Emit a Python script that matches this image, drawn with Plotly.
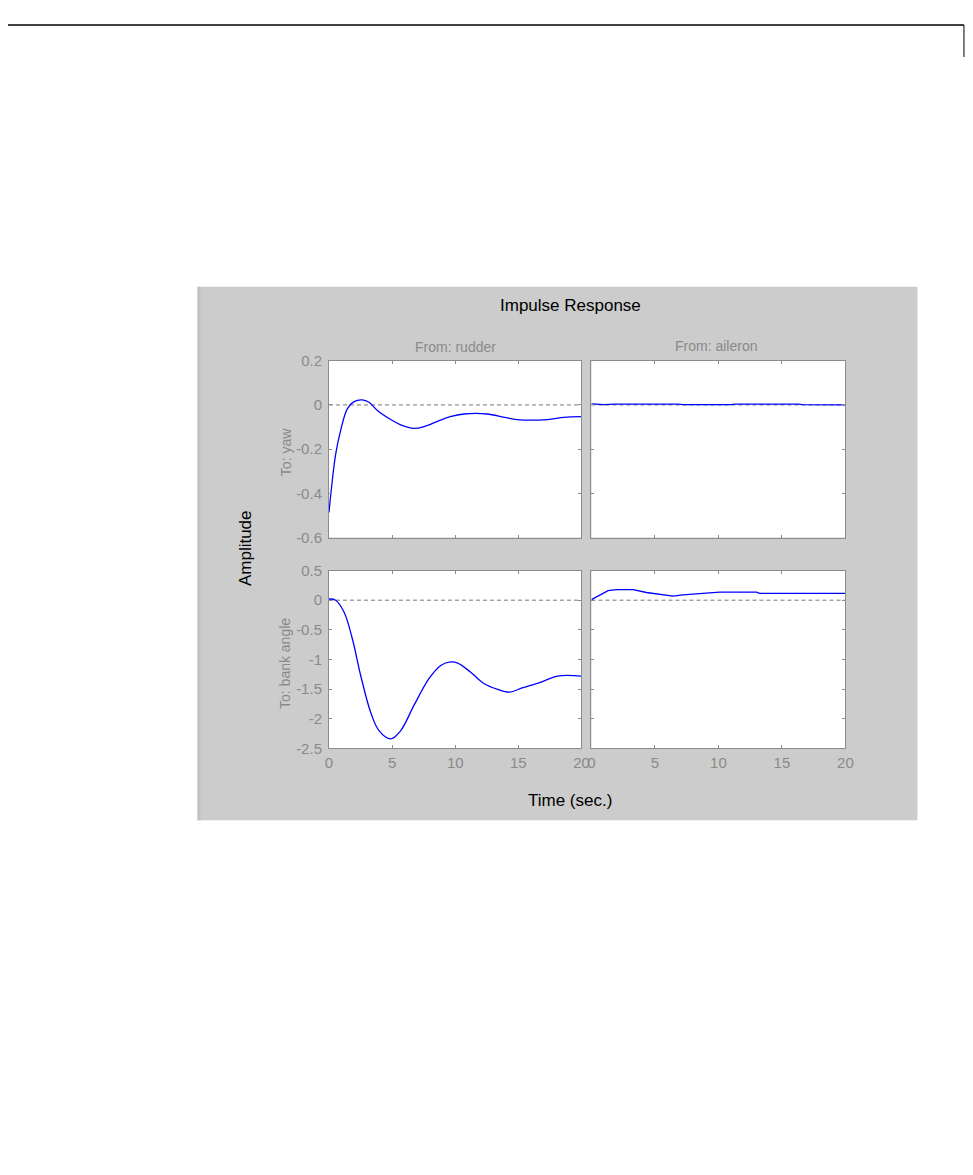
import plotly.graph_objects as go

# ---- data ----
t_yaw_rud = [0, 0.26, 0.53, 0.92, 1.45, 1.98, 2.64, 3.17, 3.83, 4.89, 5.68, 6.74, 7.53, 8.6, 9.6, 10.7, 12.5, 13.9, 14.9, 17.3, 18.6, 20]
yaw_rud = [-0.486, -0.343, -0.222, -0.116, -0.018, 0.015, 0.023, 0.012, -0.025, -0.066, -0.09, -0.106, -0.098, -0.074, -0.053, -0.041, -0.041, -0.056, -0.066, -0.066, -0.056, -0.053]

t_yaw_ail = [0, 0.5, 1.0, 1.8, 3, 5, 6.8, 7.2, 9, 11, 11.3, 13, 16.3, 16.6, 18, 20]
yaw_ail = [0.005, 0.002, 0.001, 0.004, 0.0045, 0.0045, 0.004, 0.001, 0.0005, 0.001, 0.004, 0.0045, 0.004, 0.001, 0.0005, 0.0005]

t_bank_rud = [0, 0.53, 1.19, 1.85, 2.51, 3.3, 3.96, 4.89, 5.68, 6.74, 7.93, 8.85, 9.64, 10.2, 11.2, 12.3, 13.3, 14.3, 15.3, 16.8, 18.1, 20]
bank_rud = [0.02, 0.0, -0.2, -0.65, -1.27, -1.89, -2.2, -2.34, -2.2, -1.77, -1.32, -1.1, -1.04, -1.06, -1.21, -1.41, -1.5, -1.55, -1.48, -1.38, -1.28, -1.28]

t_bank_ail = [0, 1.31, 1.97, 3.28, 4.33, 5.38, 6.43, 7.2, 8.5, 10.1, 13.0, 13.25, 20]
bank_ail = [0.01, 0.16, 0.18, 0.18, 0.13, 0.097, 0.068, 0.09, 0.108, 0.136, 0.136, 0.114, 0.114]

x_ticks = [0, 5, 10, 15, 20]
yaw_ticks = [-0.6, -0.4, -0.2, 0, 0.2]
yaw_labels = ["-0.6", "-0.4", "-0.2", "0", "0.2"]
bank_ticks = [-2.5, -2, -1.5, -1, -0.5, 0, 0.5]
bank_labels = ["-2.5", "-2", "-1.5", "-1", "-0.5", "0", "0.5"]

# empirical mapping from target screen pixels to figure pixels
OX, SX = 12.5, 0.9875
OY, SY = 15.0, 0.986
W, H = 957, 1150
FONT = "Liberation Sans, Arial, Helvetica, sans-serif"
GRAY_TXT = "#8a8a8a"
AX_COL = "#8c8c8c"


def px_x(p):
    return ((p - OX) / SX) / W


def px_y(p):
    return 1 - ((p - OY) / SY) / H


L1, R1 = 329.5, 582
L2, R2 = 592, 846
T1, B1 = 359, 536
T2, B2 = 569, 747

fig = go.Figure()
line = dict(color="#0000ff", width=1.3)
fig.add_trace(go.Scatter(x=t_yaw_rud, y=yaw_rud, mode="lines", line=line, line_shape="spline", xaxis="x", yaxis="y", showlegend=False))
fig.add_trace(go.Scatter(x=t_yaw_ail, y=yaw_ail, mode="lines", line=line, xaxis="x2", yaxis="y2", showlegend=False))
fig.add_trace(go.Scatter(x=t_bank_rud, y=bank_rud, mode="lines", line=line, line_shape="spline", xaxis="x3", yaxis="y3", showlegend=False))
fig.add_trace(go.Scatter(x=t_bank_ail, y=bank_ail, mode="lines", line=line, xaxis="x4", yaxis="y4", showlegend=False))

TICKFONT = dict(family=FONT, size=15, color=GRAY_TXT)


def xax(dom, anchor, labels):
    return dict(domain=[px_x(dom[0]), px_x(dom[1])], anchor=anchor, range=[0, 20],
                tickvals=x_ticks, showticklabels=labels, ticks="inside", ticklen=3,
                tickcolor=AX_COL, showline=True, linecolor=AX_COL, linewidth=1,
                mirror="allticks", showgrid=False, zeroline=False,
                ticklabelstandoff=1, tickfont=TICKFONT)


def yax(dom, anchor, rng, vals, labels, show):
    return dict(domain=[px_y(dom[1]), px_y(dom[0])], anchor=anchor, range=rng,
                tickvals=vals, ticktext=labels, showticklabels=show, ticks="inside", ticklen=3,
                tickcolor=AX_COL, showline=True, linecolor=AX_COL, linewidth=1,
                mirror="allticks", showgrid=False, zeroline=False,
                ticklabelstandoff=3, tickfont=TICKFONT)


fig.update_layout(
    width=W, height=H, margin=dict(l=0, r=0, t=0, b=0),
    paper_bgcolor="white", plot_bgcolor="white",
    xaxis=xax((L1, R1), "y", False),
    yaxis=yax((T1, B1), "x", [-0.6, 0.2], yaw_ticks, yaw_labels, True),
    xaxis2=xax((L2, R2), "y2", False),
    yaxis2=yax((T1, B1), "x2", [-0.6, 0.2], yaw_ticks, yaw_labels, False),
    xaxis3=xax((L1, R1), "y3", True),
    yaxis3=yax((T2, B2), "x3", [-2.5, 0.5], bank_ticks, bank_labels, True),
    xaxis4=xax((L2, R2), "y4", True),
    yaxis4=yax((T2, B2), "x4", [-2.5, 0.5], bank_ticks, bank_labels, False),
)

shapes = [
    # gray figure panel
    dict(type="rect", xref="paper", yref="paper", x0=px_x(198), x1=px_x(918), y0=px_y(819), y1=px_y(285),
         fillcolor="#cccccc", line=dict(width=0), layer="below"),
    dict(type="rect", xref="paper", yref="paper", x0=px_x(198), x1=px_x(201), y0=px_y(819), y1=px_y(285),
         fillcolor="#c2c2c2", line=dict(width=0), layer="below"),
    # page rule at top
    dict(type="line", xref="paper", yref="paper", x0=px_x(0), x1=px_x(964.5), y0=px_y(23), y1=px_y(23),
         line=dict(color="black", width=1.5)),
    dict(type="line", xref="paper", yref="paper", x0=px_x(964.5), x1=px_x(964.5), y0=px_y(23), y1=px_y(55),
         line=dict(color="black", width=1)),
]
axes = [("x", "y"), ("x2", "y2"), ("x3", "y3"), ("x4", "y4")]
for xa, ya in axes:
    shapes.append(dict(type="rect", xref=f"{xa} domain", yref=f"{ya} domain", x0=0, x1=1, y0=0, y1=1,
                       fillcolor="white", line=dict(width=0), layer="below"))
for xa, ya in axes:
    shapes.append(dict(type="line", xref=f"{xa} domain", yref=ya, x0=0, x1=1, y0=0, y1=0,
                       line=dict(color="#777777", width=1, dash="4px,3px"), layer="below"))
fig.update_layout(shapes=shapes)

ann = [
    dict(text="Impulse Response", x=px_x(571), y=px_y(304), font=dict(family=FONT, size=17, color="black")),
    dict(text="From: rudder", x=px_x(456), y=px_y(345), font=dict(family=FONT, size=14, color=GRAY_TXT)),
    dict(text="From: aileron", x=px_x(717), y=px_y(344), font=dict(family=FONT, size=14, color=GRAY_TXT)),
    dict(text="To: yaw", x=px_x(286), y=px_y(450), textangle=-90, font=dict(family=FONT, size=14, color=GRAY_TXT)),
    dict(text="To: bank angle", x=px_x(286), y=px_y(662), textangle=-90, font=dict(family=FONT, size=14, color=GRAY_TXT)),
    dict(text="Amplitude", x=px_x(246), y=px_y(546), textangle=-90, font=dict(family=FONT, size=17, color="black")),
    dict(text="Time (sec.)", x=px_x(571), y=px_y(799), font=dict(family=FONT, size=17, color="black")),
]
for a in ann:
    a.update(xref="paper", yref="paper", showarrow=False, xanchor="center", yanchor="middle")
fig.update_layout(annotations=ann)

fig.write_html("out.html")
